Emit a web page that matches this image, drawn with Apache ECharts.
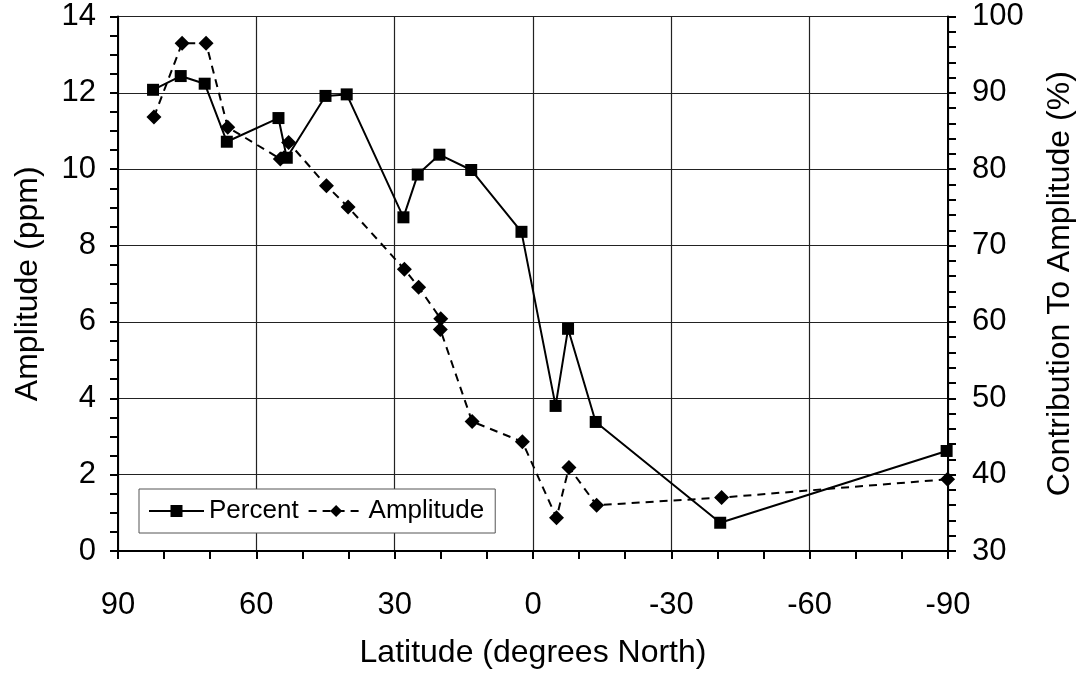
<!DOCTYPE html>
<html><head><meta charset="utf-8">
<script src="https://cdn.jsdelivr.net/npm/echarts@6/dist/echarts.min.js"></script>
<style>html,body{margin:0;padding:0;background:#fff}#c{width:1085px;height:674px}</style>
</head><body><div id="c"></div>
<script>
// Percent (right axis, %) and Amplitude (left axis, ppm) versus latitude
const percentLat = [82.4, 76.4, 71.2, 66.4, 55.2, 53.4, 45.0, 40.4, 28.1, 25.0, 20.3, 13.4, 2.5, -4.9, -7.6, -13.6, -40.6, -89.7];
const percentVal = [90.4, 92.2, 91.2, 83.6, 86.7, 81.5, 89.6, 89.8, 73.7, 79.3, 81.9, 79.9, 71.8, 49.0, 59.1, 46.9, 33.7, 43.1];
const ampLat = [82.2, 76.1, 70.9, 66.2, 54.8, 53.0, 44.8, 40.1, 27.9, 24.8, 20.0, 20.1, 13.2, 2.3, -5.1, -7.8, -13.8, -40.9, -89.9];
const ampVal = [11.37, 13.3, 13.3, 11.1, 10.27, 10.7, 9.57, 9.01, 7.38, 6.91, 6.08, 5.8, 3.39, 2.86, 0.87, 2.19, 1.2, 1.4, 1.88];

const FONT = 'Liberation Sans, Arial, sans-serif';
const chart = echarts.init(document.getElementById('c'), null, {renderer: 'canvas'});
const axisCommon = {
  axisLine: {show: true, onZero: false, lineStyle: {color: '#000', width: 2}},
  axisTick: {show: true, inside: false, length: 8, lineStyle: {color: '#000', width: 2}},
  minorTick: {show: true, length: 8, lineStyle: {color: '#000', width: 2}},
  splitLine: {show: true, lineStyle: {color: '#222', width: 1.2}},
  axisLabel: {color: '#000', fontSize: 31, fontFamily: FONT},
  nameTextStyle: {color: '#000', fontSize: 32, fontFamily: FONT},
  nameLocation: 'middle'
};
chart.setOption({
  animation: false,
  backgroundColor: '#fff',
  grid: {left: 118, right: 137, top: 16.5, bottom: 123, containLabel: false},
  legend: {
    left: 139, top: 489, orient: 'horizontal',
    padding: [9, 11, 9, 9],
    itemWidth: 55, itemHeight: 15, itemGap: 9,
    borderColor: '#555', borderWidth: 1, backgroundColor: '#fff',
    textStyle: {color: '#000', fontSize: 26, fontFamily: FONT},
    data: ['Percent', 'Amplitude']
  },
  xAxis: Object.assign({}, axisCommon, {
    type: 'value', min: -90, max: 90, interval: 30, inverse: true,
    minorTick: Object.assign({}, axisCommon.minorTick, {splitNumber: 3}),
    axisLabel: Object.assign({}, axisCommon.axisLabel, {margin: 39}),
    name: 'Latitude (degrees North)', nameGap: 86
  }),
  yAxis: [
    Object.assign({}, axisCommon, {
      type: 'value', min: 0, max: 14, interval: 2, position: 'left',
      minorTick: Object.assign({}, axisCommon.minorTick, {splitNumber: 4}),
      axisLabel: Object.assign({}, axisCommon.axisLabel, {margin: 22}),
      name: 'Amplitude (ppm)', nameGap: 74, nameRotate: 90
    }),
    Object.assign({}, axisCommon, {
      type: 'value', min: 30, max: 100, interval: 10, position: 'right',
      minorTick: Object.assign({}, axisCommon.minorTick, {splitNumber: 5}),
      splitLine: {show: false},
      axisLabel: Object.assign({}, axisCommon.axisLabel, {margin: 24}),
      name: 'Contribution To Amplitude (%)', nameGap: 96, nameRotate: 90
    })
  ],
  series: [
    {
      name: 'Percent', type: 'line', yAxisIndex: 1,
      data: percentLat.map((x, i) => [x, percentVal[i]]),
      symbol: 'rect', symbolSize: 12, showSymbol: true,
      lineStyle: {color: '#000', width: 2, type: 'solid'},
      itemStyle: {color: '#000'}, z: 3
    },
    {
      name: 'Amplitude', type: 'line', yAxisIndex: 0,
      data: ampLat.map((x, i) => [x, ampVal[i]]),
      symbol: 'diamond', symbolSize: 15, showSymbol: true,
      lineStyle: {color: '#000', width: 2, type: [8, 6]},
      itemStyle: {color: '#000'}, z: 2
    }
  ]
});
</script></body></html>
